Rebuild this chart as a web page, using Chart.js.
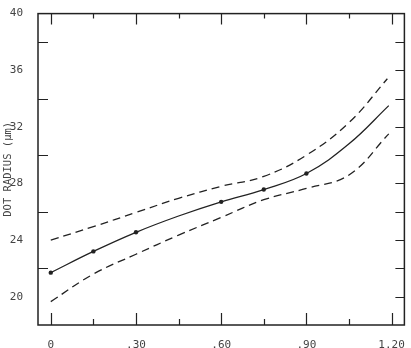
<!DOCTYPE html>
<html lang="en">
<head>
  <meta charset="UTF-8">
  <title>Dot radius</title>
  <script src="https://cdn.jsdelivr.net/npm/chart.js"></script>
  <style>
    body { margin: 0; background: #fff; }
    #wrap { width: 411px; height: 348px; }
  </style>
</head>
<body>
  <div id="wrap"><canvas id="dotChart" width="411" height="348"></canvas></div>
  <script>
    // measured points (solid line with dots)
    const measX = [0, 0.15, 0.30, 0.45, 0.60, 0.75, 0.90, 1.05, 1.19];
    const measY = [21.7, 23.2, 24.55, 25.7, 26.7, 27.57, 28.7, 30.8, 33.5];
    const measDot = [true, true, true, false, true, true, true, false, false];

    // upper bound (dashed)
    const upperX = [0, 0.15, 0.30, 0.45, 0.60, 0.75, 0.90, 1.05, 1.185];
    const upperY = [24.0, 24.95, 25.95, 26.95, 27.8, 28.5, 30.0, 32.3, 35.4];

    // lower bound (dashed)
    const lowerX = [0, 0.15, 0.30, 0.45, 0.60, 0.75, 0.90, 1.05, 1.19];
    const lowerY = [19.65, 21.6, 23.0, 24.35, 25.6, 26.85, 27.65, 28.6, 31.5];

    const xLabelTicks = [0, 0.30, 0.60, 0.90, 1.20];
    const xAllTicks = [0, 0.15, 0.30, 0.45, 0.60, 0.75, 0.90, 1.05, 1.20];
    const yLabelTicks = [20, 24, 28, 32, 36, 40];
    const yLeftTicks = [22, 26, 30, 34, 38];
    const yRightTicks = [20, 22, 24, 26, 28, 30, 32, 34, 36, 38];

    const ink = '#222';
    const textInk = '#444';

    function pts(xs, ys) {
      return xs.map((x, i) => ({x: x, y: ys[i]}));
    }

    // frame + inward ticks, like the old plotter figure
    const frameTicks = {
      id: 'frameTicks',
      afterDraw(chart) {
        const ctx = chart.ctx;
        const a = chart.chartArea;
        const xs = chart.scales.x, ys = chart.scales.y;
        ctx.save();
        ctx.strokeStyle = ink;
        ctx.lineWidth = 1.5;
        ctx.strokeRect(a.left, a.top, a.right - a.left, a.bottom - a.top);
        ctx.lineWidth = 1.2;
        ctx.beginPath();
        xAllTicks.forEach((v, i) => {
          const px = Math.round(xs.getPixelForValue(v)) + 0.5;
          const major = i % 2 == 0;
          ctx.moveTo(px, a.bottom);
          ctx.lineTo(px, a.bottom - (major ? 12 : 6));
          ctx.moveTo(px, a.top);
          ctx.lineTo(px, a.top + (major ? 11 : 5));
        });
        yLeftTicks.forEach(v => {
          const py = Math.round(ys.getPixelForValue(v)) + 0.5;
          ctx.moveTo(a.left, py);
          ctx.lineTo(a.left + 10, py);
        });
        yRightTicks.forEach(v => {
          const py = Math.round(ys.getPixelForValue(v)) + 0.5;
          ctx.moveTo(a.right, py);
          ctx.lineTo(a.right - 9, py);
        });
        ctx.stroke();
        ctx.restore();
      }
    };

    const ctx = document.getElementById('dotChart').getContext('2d');
    new Chart(ctx, {
      type: 'line',
      data: {
        datasets: [
          {
            label: 'measured',
            data: pts(measX, measY),
            borderColor: ink,
            backgroundColor: ink,
            borderWidth: 1.3,
            pointRadius: measDot.map(d => d ? 2.2 : 0),
            pointBorderWidth: 0,
            tension: 0.4,
            fill: false
          },
          {
            label: 'upper',
            data: pts(upperX, upperY),
            borderColor: ink,
            borderWidth: 1.3,
            borderDash: [8, 5],
            pointRadius: 0,
            tension: 0.4,
            fill: false
          },
          {
            label: 'lower',
            data: pts(lowerX, lowerY),
            borderColor: ink,
            borderWidth: 1.3,
            borderDash: [8, 5],
            pointRadius: 0,
            tension: 0.4,
            fill: false
          }
        ]
      },
      options: {
        responsive: false,
        animation: false,
        layout: { padding: { top: 11, right: 1, left: 0, bottom: 0 } },
        plugins: { legend: { display: false }, tooltip: { enabled: false } },
        scales: {
          x: {
            type: 'linear',
            min: -0.045,
            max: 1.245,
            grid: { display: false },
            border: { display: false },
            afterBuildTicks: s => { s.ticks = xLabelTicks.map(v => ({value: v})); },
            afterFit: s => { s.height = 23; },
            ticks: {
              padding: 6,
              color: textInk,
              font: { family: 'DejaVu Sans Mono', size: 11 },
              maxRotation: 0,
              callback: v => v == 0 ? '0' : (v >= 1 ? v.toFixed(2) : v.toFixed(2).slice(1))
            }
          },
          y: {
            min: 18,
            max: 40,
            grid: { display: false },
            border: { display: false },
            afterBuildTicks: s => { s.ticks = yLabelTicks.map(v => ({value: v})); },
            afterFit: s => { s.width = 38; },
            ticks: {
              padding: 7,
              color: textInk,
              font: { family: 'DejaVu Sans Mono', size: 11 }
            },
            title: {
              display: true,
              text: 'DOT RADIUS (μm)',
              color: textInk,
              padding: { top: 2, bottom: 0 },
              font: { family: 'DejaVu Sans Mono', size: 10.5 }
            }
          }
        }
      },
      plugins: [frameTicks]
    });
  </script>
</body>
</html>
